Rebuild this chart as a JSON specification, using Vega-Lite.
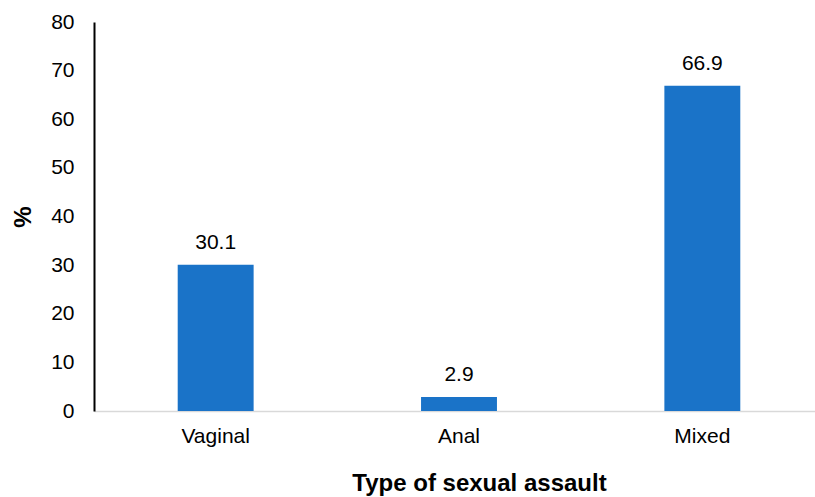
{
  "$schema": "https://vega.github.io/schema/vega-lite/v6.json",
  "width": 730,
  "height": 389,
  "autosize": {"type": "none"},
  "padding": {"left": 94, "top": 22, "right": 0, "bottom": 86},
  "background": "white",
  "data": {
    "values": [
      {"type": "Vaginal", "pct": 30.1},
      {"type": "Anal", "pct": 2.9},
      {"type": "Mixed", "pct": 66.9}
    ]
  },
  "config": {
    "view": {"stroke": null},
    "font": "Liberation Sans"
  },
  "encoding": {
    "x": {
      "field": "type",
      "type": "nominal",
      "sort": null,
      "scale": {"paddingInner": 0.688, "paddingOuter": 0.344},
      "axis": {
        "title": "Type of sexual assault",
        "titleFontSize": 24,
        "titleFontWeight": "bold",
        "titleColor": "#000000",
        "titlePadding": 25,
        "titleX": 385,
        "labelAngle": 0,
        "labelFontSize": 21,
        "labelColor": "#000000",
        "labelPadding": 14,
        "ticks": false,
        "domainColor": "#d9d9d9",
        "domainWidth": 1.5
      }
    },
    "y": {
      "field": "pct",
      "type": "quantitative",
      "scale": {"domain": [0, 80]},
      "axis": {
        "title": "%",
        "titleFontSize": 24,
        "titleFontWeight": "bold",
        "titleColor": "#000000",
        "titlePadding": 15,
        "values": [0, 10, 20, 30, 40, 50, 60, 70, 80],
        "labelFontSize": 21,
        "labelColor": "#000000",
        "labelPadding": 20,
        "ticks": false,
        "grid": false,
        "domainColor": "#000000",
        "domainWidth": 2
      }
    }
  },
  "layer": [
    {
      "mark": {"type": "bar", "color": "#1a73c8"}
    },
    {
      "mark": {"type": "text", "baseline": "bottom", "dy": -12, "fontSize": 21, "color": "#000000"},
      "encoding": {
        "text": {"field": "pct", "type": "quantitative", "format": ".1f"}
      }
    }
  ]
}
